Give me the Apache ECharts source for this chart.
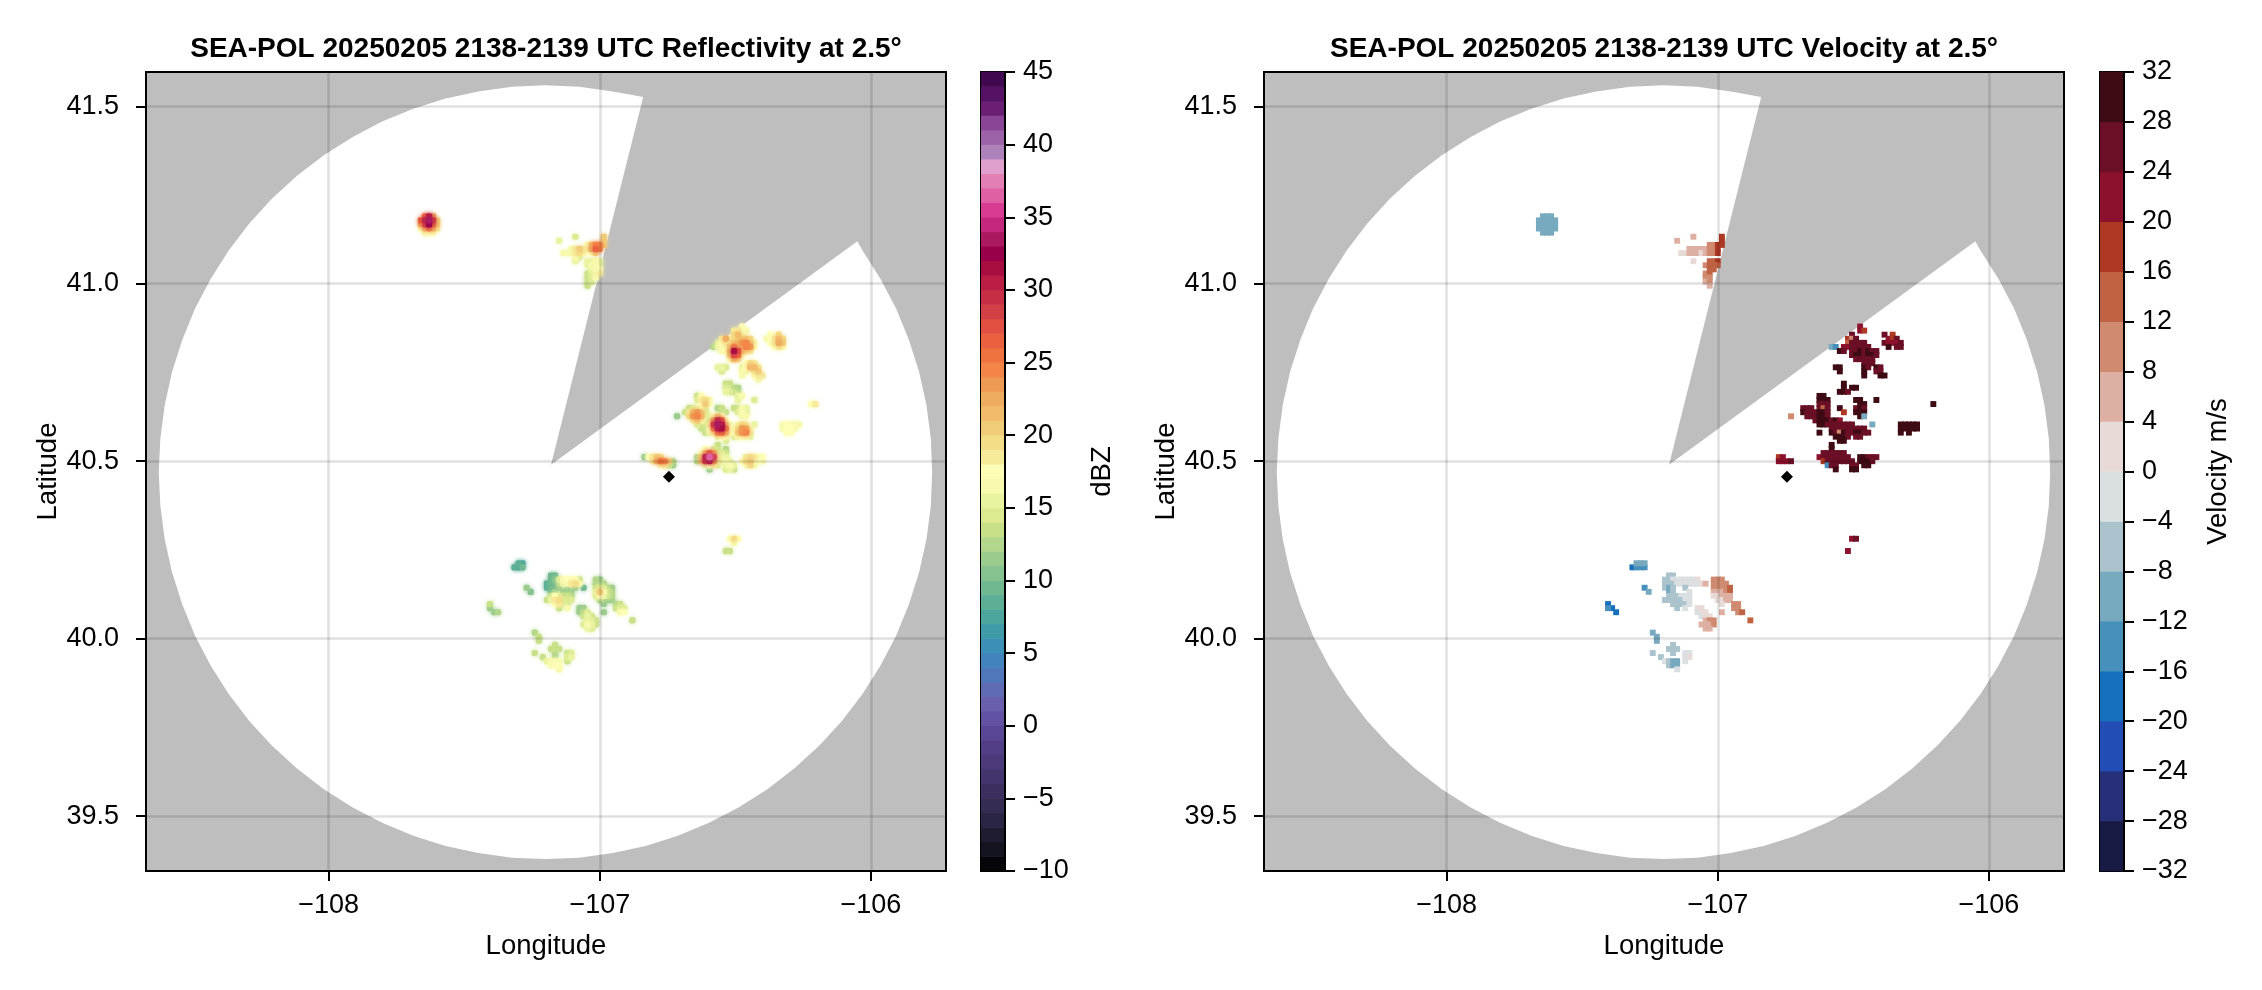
<!DOCTYPE html>
<html><head><meta charset="utf-8">
<style>html,body{margin:0;padding:0;background:#fff}#c{width:2262px;height:990px}</style>
<script src="https://cdn.jsdelivr.net/npm/echarts@6/dist/echarts.min.js"></script>
</head><body><div id="c"></div>
<script>
// ---------- data ----------
const lonTicks = [-108, -107, -106];
const latTicks = [39.5, 40, 40.5, 41, 41.5];
const panelTitles = ['SEA-POL 20250205 2138-2139 UTC Reflectivity at 2.5°','SEA-POL 20250205 2138-2139 UTC Velocity at 2.5°'];
// low-to-high colour bands, 1 dBZ wide from -10
const dbzColors = ['#060509','#141320','#1e1c2e','#2a2545','#352b53','#3c2f60','#44346e','#4b397a','#523e87','#594695','#6352a3','#6a5fac','#5f6cb3','#4f77ba','#4383bd','#3c90b8','#409ba8','#4ca69e','#5cae96','#6fb890','#85c28f','#9ccc8d','#b2d68b','#c8e189','#dceb92','#e9f3a0','#f7f9ae','#fdfdb5','#f6eb9b','#f4dd87','#f1cc78','#f2bb6a','#eeac5e','#ee9a52','#f48549','#ef733f','#e9613f','#e25043','#d24045','#c52e44','#bb1e44','#a80d40','#99004a','#ab1a60','#c4287c','#d83c92','#e061a3','#e47fb4','#e0a0ce','#ad82bb','#9c63a9','#8a4596','#6b1f74','#551163','#40084f'];
// low-to-high colour bands, 4 m/s wide from -32
const velColors = ['#171a42','#282f79','#214db5','#1770bb','#4790bb','#77a9bf','#aac3cd','#dadfe2','#e7dad7','#deb0a4','#cf8a70','#c06345','#ad3824','#8c112d','#6a0f26','#3e0a14'];
// radar sector outline, [lon, lat]
const sectorOutline = [[-107.18,40.49],[-106.05,41.12],[-106.031,41.094],[-105.965,41.014],[-105.907,40.93],[-105.86,40.842],[-105.822,40.751],[-105.795,40.658],[-105.779,40.564],[-105.774,40.469],[-105.779,40.374],[-105.795,40.28],[-105.822,40.187],[-105.86,40.096],[-105.907,40.008],[-105.965,39.924],[-106.031,39.844],[-106.107,39.768],[-106.191,39.698],[-106.283,39.634],[-106.382,39.576],[-106.487,39.525],[-106.597,39.481],[-106.712,39.445],[-106.831,39.416],[-106.952,39.396],[-107.076,39.383],[-107.2,39.379],[-107.324,39.383],[-107.448,39.396],[-107.569,39.416],[-107.688,39.445],[-107.803,39.481],[-107.913,39.525],[-108.018,39.576],[-108.117,39.634],[-108.209,39.698],[-108.293,39.768],[-108.369,39.844],[-108.435,39.924],[-108.493,40.008],[-108.54,40.096],[-108.578,40.187],[-108.605,40.28],[-108.621,40.374],[-108.627,40.469],[-108.621,40.564],[-108.605,40.658],[-108.578,40.751],[-108.54,40.842],[-108.493,40.93],[-108.435,41.014],[-108.369,41.094],[-108.293,41.17],[-108.209,41.24],[-108.117,41.304],[-108.018,41.362],[-107.913,41.413],[-107.803,41.457],[-107.688,41.493],[-107.569,41.522],[-107.448,41.542],[-107.324,41.555],[-107.2,41.559],[-107.076,41.555],[-106.952,41.542],[-106.84,41.526]];
const siteMarker = [-106.745, 40.456];
// gate rows: [row, firstColumn, values...]; row/column count from 40.5N, 107W
const gateLon0 = -107, gateLat0 = 40.5, gateDLon = 0.015, gateDLat = 0.0115;
const reflGates = [
[1,11,11,17,18,20,19],[0,13,18,22,25,24,20,12],[-1,15,16,18,13,11],
[4,29,13],[3,26,17,null,14,13,null,12],[2,25,17,21,26,22,14,14,13],[1,24,12,20,30,36,28,18,15,15],[1,36,18,19,18,17,17],
[0,24,12,21,28,30,23,18,15,16,15,null,null,17,19,20,17,17,16],[-1,26,15,17,18,14,null,15,16,15,null,null,17,19,16],[-2,27,11,null,null,null,14,15,13],
[16,24,13,17],[16,34,15,16],[15,24,14,18,19,16],[15,34,15],[15,38,14],[14,25,17,20,17],[14,52,17,18],
[13,22,13,14,15,16,14],[13,29,12,13],[13,33,13,13,16,15],[12,21,13,18,21,23,20,14],[12,30,12,13],[12,34,14,16,14],
[11,19,11],[11,22,19,23,24,21,15,14,17,20,17],[11,35,16,16],
[10,23,18,20,16,14,13,22,29,26,17],[9,24,14,13,13,18,28,33,30,20,16,null,16,19,18,null,15],[9,45,16,17,16,16,16],
[8,25,13,12,17,24,30,31,24,17,16,19,23,22,16],[8,45,16,17,17,16],[7,26,13,15,18,24,25,21,16,17,20,23,24,18],[7,46,17,17],
[6,29,15,17,16,null,14,16,17,16,15],[5,31,14],
[33,35,17],[32,33,18,18,16,16],[31,33,19,21,16],[31,42,17,null,19],[30,30,18,22,17,18,19,20,20,19],[30,41,16,17,18,21,19],
[29,29,14,17,18,18,20,21,23,24,20,16],[29,42,17,18,22,20],[28,28,12,15,16,16,20,24,21,21,24,23,17],[28,43,17,18,17],
[27,30,16,17,21,31,27,20,19,18],[26,32,20,27,25,17],[25,32,17,21,19],
[24,36,17,19,18],[23,29,15,15,14],[23,35,15,17,21,21,18],[22,30,14],[22,35,16,16,null,18,20],[21,35,16,null,null,17,18,18],[20,39,16],
[19,31,13,13],[18,31,14],[18,33,12,12],[17,31,15,14,13,12],
[60,-43,25,30,22],[59,-44,26,29,33,28,20],[58,-44,22,27,32,25,20],[57,-44,17,21,24,21,18],[56,-43,16,17,16],
[55,1,20],[55,-6,14],[54,1,20],[54,-10,15],[53,-3,16,21,24,24,20],[52,-7,16,18,20,18,18,22,26,24],[51,-9,16,16,16,18,19,16,null,17,20],[50,-6,16,14],[49,-6,15],
[49,-3,15,15,16,15],[48,-3,15,16,16,14],[47,-2,15,16,17],[46,-3,13,14,15,18],[45,-3,13,14,16],[44,-3,13,14],[43,-3,13],
[-19,32,17,19,17],[-20,33,16],[-22,31,13,13],
[-26,-21,8,7,9],[-25,-20,8,7],[-28,-12,9,9],[-29,-12,9,10,14,16,17,17,17,13],[-30,-13,8,9,9,12,15,16,18,19,16],
[-31,-13,8,9,9,11,null,10,null,11,null,9],[-32,-12,9,11,null,11,11,11],[-33,-12,13,17,14,12,13,12],[-34,-13,13,15,18,19,14,14,14],[-35,-11,17,18,14,13],[-36,-10,13,null,16],
[-31,-18,11],[-32,-17,10],[-35,-27,13],[-36,-27,11],[-37,-26,11,12],
[-29,-1,12,11],[-30,-1,12,11,12],[-31,-1,13,14,14,12,11],[-32,-1,15,20,16,13,12],[-33,-1,14,17,15,13,12],[-34,0,12,11,11,11],[-35,1,11],[-35,4,12,13],[-36,4,13,14,14],[-37,5,16,17],[-37,1,11],
[-36,-5,11,11],[-37,-5,11,12,14],[-38,-4,13,15,13],[-39,-3,15,14,13],[-40,-4,14,16,15,13],[-41,-3,15,14],[-39,8,13],
[-42,-16,12],[-43,-15,13],[-44,-15,13],[-45,-11,13],[-46,-12,13,13,13],[-47,-11,12],[-47,-16,13],[-48,-14,13],[-48,-11,12],
[-47,-8,13,14],[-48,-8,14,15],[-49,-8,13],[-49,-13,15,16,16,16],[-50,-12,16,17,17],[-51,-10,16]
];
const velGates = [
[1,15,19,22],[0,15,22,22,22,26],
[4,28,30],[3,28,28],[2,26,26,26,26,26,26,26],[1,25,22,26,26,26,26,26,26,26],[1,35,30,30,26,26,26],
[0,26,18,26,26,26,26,26,26,26],[0,35,30,30,30,26],[-1,27,-14,26,26],[-1,33,26,26],[-1,36,30,30],[-2,29,30],[-2,33,30,30],
[16,25,30,30],[15,25,30,30,30],[14,25,26,26,26],[13,21,26,26,26,null,26,12,26],[13,30,28],[12,21,30,26,26,26,30,30,26],[12,31,16],
[11,18,8],[11,22,26,26,26,30,30,26],[10,24,26,30,30,30,26,30,20],[9,25,30,30,26,26,26,26,26,26,26],[9,38,-10],
[8,28,26,26,26,26,26,26,26,26,26],[7,25,30],[7,28,30,26,8,30,26,26,30,30,26,26],[6,29,30,30,30,26,null,26,26],[5,30,30,30],
[15,34,30,30],[15,39,30],[14,35,30,30],[13,34,26,30,26],[12,34,30,30,30],[11,35,30,-10],
[19,31,30],[18,31,30],[18,33,30,30],[17,30,30,30,26],[23,29,30,30],[22,30,30],
[33,35,20],[32,35,20,16],[31,33,26],[30,32,16,10,26],[29,32,12,26,26,26,26],[28,28,-12,-14,null,20,20,26,26,26,26,26],
[27,30,30,26,null,26,26,30,26,30,26,26],[26,33,26,30,30,26,30,30,26],[25,34,26,26,26,26,26],
[24,36,26,26,26],[23,36,30,26,null,30,26],[22,36,30,null,null,26,26],[21,36,30,null,null,null,30,30],
[31,41,26,null,18],[30,42,22,18,26],[29,41,26,22,22,22,26],[28,42,30,null,26,26],[14,53,30],
[9,45,30,30,30,30,28],[8,45,30,30,30,30,30],[7,45,30,null,30],
[60,-43,-10,-10,-10],[59,-44,-10,-10,-10,-10,-10],[58,-44,-10,-10,-10,-10,-10],[57,-44,-10,-10,-10,-10,-10],[56,-43,-10,-10,-10],
[55,1,16],[55,-6,6],[54,1,16],[54,-10,7],[53,-2,10,10,16,16],[52,-7,6,6,6,6,6,10,10,16],[51,-9,2,2,4,6,6,2,6,10,10,16],[49,-6,2],
[49,-2,12,14,16],[48,-3,10,12,12,14],[47,-2,12,12],[46,-3,10,12],[45,-3,10,8],[44,-3,6,8],[43,-2,6],
[-19,33,22,26],[-22,32,20],
[-26,-21,-18,-16,-14,-14],[-25,-20,-12,-12,-10],[-28,-12,-6,-6],[-29,-13,-7,-7,-2,-2,-2,-2,-2,-2,2],[-30,-13,-6,-6,-6,-2,-2,-2,-2,-2,-2,2,6],
[-31,-13,-6,-10,-6],[-31,-8,-6],[-32,-12,-10,-6],[-32,-7,-2],[-33,-12,-6,-6,-6,-2,-2,-2],[-34,-13,-6,-6,-6,-6,-6,-2,-2],[-35,-11,-6,-6,-6,-6,-2],[-36,-10,-7,null,-2],
[-31,-18,-14],[-32,-17,-10],[-35,-27,-18],[-36,-26,-18],[-37,-25,-18],[-36,-27,-14],
[-29,-1,10,10,10],[-30,-1,10,10,10,10],[-31,-1,10,10,10,10,12],[-32,-1,6,6,6,10,12],[-33,-1,2,2,6,6,6],[-34,0,2,2,6,4],[-35,1,2],[-35,4,10,10],[-36,4,10,10],[-37,5,10,12],[-37,1,6],
[-36,-5,2,2],[-37,-5,-2,2,2],[-38,-4,-2,2,2],[-39,-3,6,10,10],[-40,-4,6,6,6,8],[-41,-3,6,6],[-39,8,12],
[-42,-16,-10],[-43,-15,-10],[-44,-15,-10],[-45,-11,-6],[-46,-12,-6,-6,-6],[-47,-11,-6],[-47,-16,-6],[-48,-14,-6],
[-47,-8,-2,-2],[-48,-8,-2,2],[-49,-8,-2],[-49,-13,-2,-6,-10,-10],[-50,-12,-6,-10,-10],[-51,-10,-2]
];
// ---------- chart ----------
const FONT = '"Liberation Sans", Arial, sans-serif';
const TICK = 27, LABEL = 27.5;
const minus = s => String(s).replace('-', '\u2212');
function gateData(rows, byValue){
  const out = [];
  rows.forEach(r => { for (let k = 2; k < r.length; k++) if (r[k] !== null)
    out.push([gateLon0 + (r[1] + k - 2) * gateDLon, gateLat0 + r[0] * gateDLat, r[k]]); });
  if (byValue) out.sort((a, b) => a[2] - b[2]);
  return out;
}
const dbzColor = v => dbzColors[Math.max(0, Math.min(54, Math.floor(v + 10)))];
const velColor = v => velColors[Math.max(0, Math.min(15, Math.floor((v + 32) / 4)))];
function gateSeries(i, rows, colorOf, grow, blur){
  return {type:'custom', xAxisIndex:i, yAxisIndex:i, z:3, silent:true, animation:false, clip:true, encode:{x:0,y:1},
    data:gateData(rows, blur > 0), progressive:0,
    renderItem:(p, api) => {
      const lon = api.value(0), lat = api.value(1), c = colorOf(api.value(2));
      const a = api.coord([lon - gateDLon/2, lat + gateDLat/2]), b = api.coord([lon + gateDLon/2, lat - gateDLat/2]);
      const w = b[0]-a[0], h = b[1]-a[1];
      return {type:'rect', shape:{x:a[0]-w*(grow-1)/2, y:a[1]-h*(grow-1)/2, width:w*grow, height:h*grow, r:blur > 0 ? 2 : 0}, style:{fill:c, shadowBlur:blur, shadowColor:c}};
    }};
}
function sectorSeries(i){
  return {type:'custom', xAxisIndex:i, yAxisIndex:i, z:1, silent:true, animation:false, encode:{x:0,y:1}, data:sectorOutline,
    renderItem:(p, api) => p.dataIndex === 0 ? {type:'polygon', shape:{points:sectorOutline.map(q => api.coord(q))}, style:{fill:'#fff'}} : null};
}
function bandSeries(i, low, step, colors){
  return {type:'custom', xAxisIndex:i, yAxisIndex:i, z:1, silent:true, animation:false, encode:{x:0,y:1},
    data:colors.map((c, k) => [0, low + k * step]),
    renderItem:(p, api) => {
      const v = api.value(1), a = api.coord([0, v + step]), b = api.coord([1, v]);
      return {type:'rect', shape:{x:a[0], y:a[1]-0.3, width:b[0]-a[0], height:b[1]-a[1]+0.6}, style:{fill:colors[p.dataIndex]}};
    }};
}
const axisFont = {color:'#000', fontFamily:FONT, fontSize:TICK};
const nameFont = {color:'#000', fontFamily:FONT, fontSize:LABEL};
const tickSt = {show:true, length:10, lineStyle:{color:'#000', width:2}};
const gridLine = {show:true, lineStyle:{color:'rgba(0,0,0,0.12)', width:2.5}};
const plotGrid = (left, width) => ({left, width, top:72, height:799, show:true, backgroundColor:'#bebebe', borderColor:'#000', borderWidth:2});
const barGrid = (left, width) => ({left, width, top:72, height:799, show:true, backgroundColor:'#fff', borderColor:'#000', borderWidth:2});
const lonAxis = i => ({type:'value', gridIndex:i, min:-108.674, max:-105.723, z:10, name:'Longitude', nameLocation:'middle', nameGap:61, nameTextStyle:nameFont,
  axisLine:{show:true, onZero:false, lineStyle:{color:'#000', width:2}}, axisTick:{...tickSt, customValues:lonTicks},
  axisLabel:{...axisFont, margin:21, customValues:lonTicks, formatter:v => minus(v)}, splitLine:gridLine});
const latAxis = i => ({type:'value', gridIndex:i, min:39.3454, max:41.5966, z:10, name:'Latitude', nameLocation:'middle', nameGap:83, nameRotate:90, nameTextStyle:nameFont,
  axisLine:{show:true, onZero:false, lineStyle:{color:'#000', width:2}}, axisTick:{...tickSt, customValues:latTicks},
  axisLabel:{...axisFont, margin:27, customValues:latTicks, formatter:v => v.toFixed(1)}, splitLine:gridLine});
const barX = i => ({type:'value', gridIndex:i, min:0, max:1, show:false});
const barY = (i, min, max, step, name, gap) => ({type:'value', gridIndex:i, position:'right', min, max, interval:step, z:10, name, nameLocation:'middle', nameGap:gap, nameRotate:90, nameTextStyle:nameFont,
  axisLine:{show:true, onZero:false, lineStyle:{color:'#000', width:2}}, axisTick:tickSt,
  axisLabel:{...axisFont, margin:18, formatter:v => minus(v)}, splitLine:{show:false}});
const option = {
  animation:false, backgroundColor:'#fff',
  title: panelTitles.map((t, i) => ({text:t, left:[541,1659][i], top:30, textAlign:'center', textStyle:{color:'#000', fontFamily:FONT, fontSize:28, fontWeight:'bold'}})),
  grid:[plotGrid(146,800), barGrid(981,24), plotGrid(1264,800), barGrid(2100,24)],
  xAxis:[lonAxis(0), barX(1), lonAxis(2), barX(3)],
  yAxis:[latAxis(0), barY(1,-10,45,5,'dBZ',83), latAxis(2), barY(3,-32,32,4,'Velocity m/s',80)],
  series:[
    sectorSeries(0), gateSeries(0, reflGates, dbzColor, 1.5, 4),
    {type:'scatter', xAxisIndex:0, yAxisIndex:0, z:4, symbol:'diamond', symbolSize:12, itemStyle:{color:'#000', opacity:1}, silent:true, data:[siteMarker]},
    bandSeries(1, -10, 1, dbzColors),
    sectorSeries(2), gateSeries(2, velGates, velColor, 1.45, 0),
    {type:'scatter', xAxisIndex:2, yAxisIndex:2, z:4, symbol:'diamond', symbolSize:12, itemStyle:{color:'#000', opacity:1}, silent:true, data:[siteMarker]},
    bandSeries(3, -32, 4, velColors)
  ]
};
const chart = echarts.init(document.getElementById('c'), null, {renderer:'canvas', width:2262, height:990});
chart.setOption(option);
</script></body></html>
